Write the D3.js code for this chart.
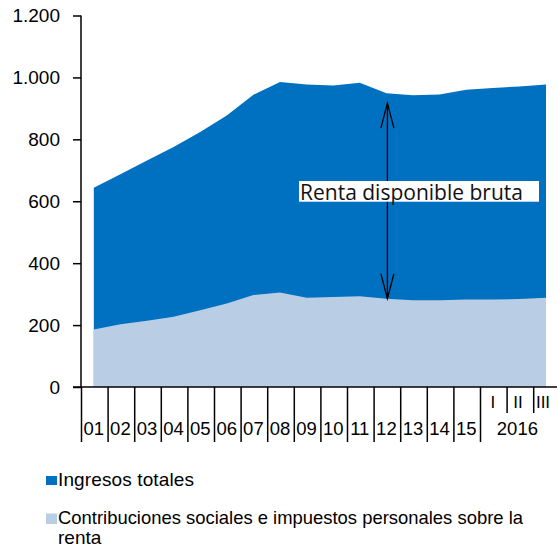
<!DOCTYPE html>
<html>
<head>
<meta charset="utf-8">
<script src="https://cdn.jsdelivr.net/npm/d3@7"></script>
<style>
  body { margin: 0; background: #fff; }
  text { font-family: "Liberation Sans", Arial, sans-serif; fill: #000; }
</style>
</head>
<body>
<div class="visHolder"></div>
<script>
const w = 557;
const h = 548;

// categorias: anos 2001-2015 y trimestres de 2016
const categories = ['01', '02', '03', '04', '05', '06', '07', '08', '09', '10', '11', '12', '13', '14', '15', 'I', 'II', 'III'];
const yearLabels = ['01', '02', '03', '04', '05', '06', '07', '08', '09', '10', '11', '12', '13', '14', '15'];
const quarterLabels = ['I', 'II', 'III'];
const ingresosTotales = [644, 687, 732, 775, 824, 877, 944, 985, 977, 974, 983, 949, 942, 945, 960, 966, 971, 977];
const contribuciones = [186, 203, 214, 227, 248, 270, 297, 305, 288, 291, 293, 285, 280, 280, 283, 283, 284, 288];
const yTicks = [0, 200, 400, 600, 800, 1000, 1200];
const legendLabels = ['Ingresos totales', 'Contribuciones sociales e impuestos personales sobre la', 'renta'];
const colors = ['#0070c0', '#b9cde5'];

const esLocale = d3.formatLocale({ decimal: ',', thousands: '.', grouping: [3], currency: ['', '€'] });
const fmt = esLocale.format(',d');

var svgContainer = d3
  .select('.visHolder')
  .append('svg')
  .attr('width', w)
  .attr('height', h);

const xScale = d3.scaleBand()
  .domain(categories)
  .range([81.5, 81.5 + 18 * 26.6])
  .paddingInner(0)
  .paddingOuter(0);
const bw = xScale.bandwidth();
const cx = c => xScale(c) + bw / 2;

const yScale = d3.scaleLinear()
  .domain([0, 1200])
  .range([387, 15.5]);

// areas
const areaTotal = d3.area()
  .x((d, i) => cx(categories[i]) - 1)
  .y0(yScale(0))
  .y1(d => yScale(d));

svgContainer.append('path')
  .datum(ingresosTotales)
  .attr('d', areaTotal)
  .style('fill', colors[0]);

svgContainer.append('path')
  .datum(contribuciones)
  .attr('d', areaTotal)
  .style('fill', colors[1]);

// eje y
const yAxis = d3.axisLeft(yScale)
  .tickValues(yTicks)
  .tickFormat(fmt)
  .tickSize(8)
  .tickPadding(13);

const gy = svgContainer.append('g')
  .attr('transform', 'translate(81,0)')
  .call(yAxis);
gy.select('.domain').attr('stroke', '#000').attr('stroke-width', 1.5).attr('d', 'M0,' + yScale(1200) + 'V' + yScale(0));
gy.selectAll('.tick line').attr('stroke', '#000').attr('stroke-width', 1.5);
gy.selectAll('.tick text').style('font-size', '19px').attr('font-family', null);

// eje x
svgContainer.append('line')
  .attr('x1', 73).attr('x2', w)
  .attr('y1', yScale(0)).attr('y2', yScale(0))
  .attr('stroke', '#000').attr('stroke-width', 1.5);

const gx = svgContainer.append('g');

// separadores de anos (largos)
gx.selectAll('line.year')
  .data(yearLabels.concat(['I']))
  .enter()
  .append('line')
  .attr('class', 'year')
  .attr('x1', d => xScale(d)).attr('x2', d => xScale(d))
  .attr('y1', yScale(0)).attr('y2', 442)
  .attr('stroke', '#000').attr('stroke-width', 1.5);

// separadores de trimestres (cortos)
gx.selectAll('line.q')
  .data(quarterLabels.slice(1))
  .enter()
  .append('line')
  .attr('class', 'q')
  .attr('x1', d => xScale(d)).attr('x2', d => xScale(d))
  .attr('y1', yScale(0)).attr('y2', 413)
  .attr('stroke', '#000').attr('stroke-width', 1.5);

gx.selectAll('text.year')
  .data(yearLabels)
  .enter()
  .append('text')
  .attr('class', 'year')
  .attr('x', d => cx(d) - 1)
  .attr('y', 434.5)
  .attr('text-anchor', 'middle')
  .style('font-size', '18.5px')
  .text(d => d);

gx.selectAll('text.q')
  .data(quarterLabels)
  .enter()
  .append('text')
  .attr('class', 'q')
  .attr('x', (d, i) => cx(d) - 1 - i * 1.5)
  .attr('y', 408)
  .attr('text-anchor', 'middle')
  .style('font-size', '17px')
  .text(d => d);

gx.append('text')
  .attr('x', (cx('I') + cx('III')) / 2 - 3)
  .attr('y', 434.5)
  .attr('text-anchor', 'middle')
  .style('font-size', '18.5px')
  .text('2016');

// anotacion: renta disponible bruta
const ax = cx('12');
const yTop = yScale(ingresosTotales[11]) + 10;
const yBot = yScale(contribuciones[11]);

svgContainer.append('line')
  .attr('x1', ax).attr('x2', ax)
  .attr('y1', yTop).attr('y2', yBot)
  .attr('stroke', '#000').attr('stroke-width', 1.3);

svgContainer.append('path')
  .attr('d', 'M' + (ax - 6.5) + ',' + (yTop + 25) + 'L' + ax + ',' + yTop + 'L' + (ax + 6.5) + ',' + (yTop + 25) +
    'M' + (ax - 6.5) + ',' + (yBot - 25) + 'L' + ax + ',' + yBot + 'L' + (ax + 6.5) + ',' + (yBot - 25))
  .attr('fill', 'none')
  .attr('stroke', '#000').attr('stroke-width', 1.3);

svgContainer.append('rect')
  .attr('x', 299).attr('y', 181)
  .attr('width', 240).attr('height', 20.7)
  .style('fill', '#fff');

svgContainer.append('text')
  .attr('x', 300)
  .attr('y', 199.5)
  .attr('textLength', 223)
  .attr('lengthAdjust', 'spacingAndGlyphs')
  .style('font-family', '"Open Sans", "DejaVu Sans", sans-serif')
  .style('font-size', '21px')
  .style('fill', '#111')
  .text('Renta disponible bruta');

// leyenda
const legend = svgContainer.append('g');

legend.append('rect')
  .attr('x', 46).attr('y', 476).attr('width', 11).attr('height', 9)
  .style('fill', colors[0]);
legend.append('text')
  .attr('x', 58).attr('y', 486)
  .attr('textLength', 136)
  .attr('lengthAdjust', 'spacing')
  .style('font-size', '19px')
  .text(legendLabels[0]);

legend.append('rect')
  .attr('x', 46).attr('y', 513.5).attr('width', 11).attr('height', 10.5)
  .style('fill', colors[1]);
legend.append('text')
  .attr('x', 58).attr('y', 524)
  .attr('textLength', 465)
  .attr('lengthAdjust', 'spacingAndGlyphs')
  .style('font-size', '19px')
  .text(legendLabels[1]);
legend.append('text')
  .attr('x', 58).attr('y', 543.5)
  .style('font-size', '19px')
  .text(legendLabels[2]);
</script>
</body>
</html>
